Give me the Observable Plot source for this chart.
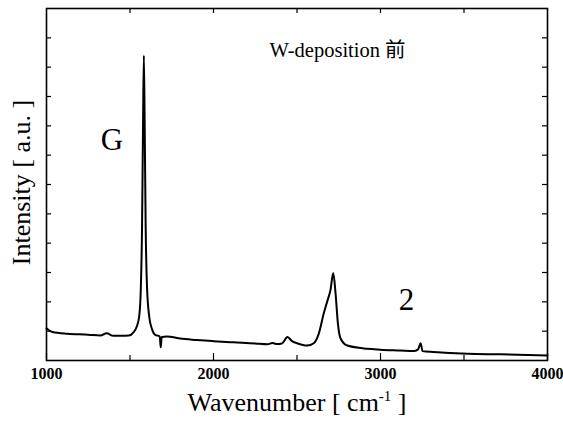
<!DOCTYPE html>
<html>
<head>
<meta charset="utf-8">
<script src="https://cdn.jsdelivr.net/npm/d3@7"></script>
<script src="https://cdn.jsdelivr.net/npm/@observablehq/plot@0.6"></script>
<style>
  html, body { margin: 0; padding: 0; background: #fff; }
  #chart svg { display: block; }
</style>
</head>
<body>
<div id="chart"></div>
<script>
// Raman spectrum
const wavenumber = [1000, 1036, 1125, 1250, 1323, 1360, 1400, 1450, 1492, 1522, 1540, 1555, 1565, 1572, 1578, 1583, 1588, 1594, 1602, 1615, 1630, 1650, 1678, 1684, 1690, 1720, 1750, 1800, 1900, 2000, 2120, 2250, 2323, 2353, 2380, 2410, 2443, 2470, 2500, 2561, 2600, 2630, 2660, 2683, 2700, 2717, 2731, 2745, 2761, 2801, 2920, 3000, 3120, 3198, 3225, 3240, 3252, 3318, 3520, 3719, 4000];
const intensity  = [1.10, 0.97, 0.91, 0.88, 0.85, 0.93, 0.84, 0.84, 0.85, 0.97, 1.15, 1.5, 2.5, 4.5, 8.0, 10.4, 8.0, 4.5, 2.5, 1.5, 1.1, 0.88, 0.82, 0.45, 0.80, 0.82, 0.80, 0.75, 0.70, 0.66, 0.62, 0.58, 0.55, 0.60, 0.56, 0.58, 0.80, 0.66, 0.59, 0.51, 0.59, 0.91, 1.6, 2.05, 2.39, 2.98, 2.28, 1.26, 0.75, 0.51, 0.40, 0.37, 0.34, 0.32, 0.38, 0.59, 0.32, 0.29, 0.23, 0.21, 0.17];

const xMajorTicks = [1000, 2000, 3000, 4000];
const xMinorTicks = [1500, 2500, 3500];
const xTopTicks = [1500, 2000, 2500, 3000, 3500];
const yTicks = [1, 2, 3, 4, 5, 6, 7, 8, 9, 10, 11];

const annoText = ["G", "2"];
const annoX = [1392, 3156];
const annoY = [7.53, 2.05];
const titleText = "W-deposition 前";
const titleX = 2743;
const titleY = 10.57;

const xLabel = "Wavenumber [ cm-1 ]";
const yLabel = "Intensity [ a.u. ]";

const spectrum = wavenumber.map((w, i) => ({w, v: intensity[i]}));
const annos = annoText.map((t, i) => ({t, x: annoX[i], y: annoY[i]}));

const W = 563, H = 430, mL = 46, mR = 16, mT = 8, mB = 70;
const innerH = H - mT - mB, innerW = W - mL - mR;
const serif = "'Liberation Serif', 'Times New Roman', 'Noto Sans CJK SC', serif";

const plot = Plot.plot({
  width: W, height: H,
  marginLeft: mL, marginRight: mR, marginTop: mT, marginBottom: mB,
  style: {fontFamily: serif, background: "#fff", color: "#000"},
  x: {domain: [1000, 4000]},
  y: {domain: [0, 12], axis: null},
  marks: [
    Plot.line(spectrum, {x: "w", y: "v", stroke: "#000", strokeWidth: 2, curve: "monotone-x"}),
    // bottom ticks (inward)
    Plot.ruleX(xMajorTicks, {stroke: "#000", strokeWidth: 1.2, insetTop: innerH - 7}),
    Plot.ruleX(xMinorTicks, {stroke: "#000", strokeWidth: 1.2, insetTop: innerH - 5}),
    // top ticks (inward)
    Plot.ruleX(xTopTicks, {stroke: "#000", strokeWidth: 1.2, insetBottom: innerH - 5}),
    // left / right ticks (inward)
    Plot.ruleY(yTicks, {stroke: "#000", strokeWidth: 1.2, insetRight: innerW - 5}),
    Plot.ruleY(yTicks, {stroke: "#000", strokeWidth: 1.2, insetLeft: innerW - 5}),
    Plot.frame({stroke: "#000", strokeWidth: 1.6}),
    Plot.axisX(xMajorTicks, {anchor: "bottom", tickSize: 0, tickPadding: 7, fontSize: 16, fontWeight: "bold", tickFormat: d => String(d), label: null}),
    Plot.text(annos, {x: "x", y: "y", text: "t", fontSize: 31, fontFamily: serif, fill: "#000"}),
    Plot.text([titleText], {x: () => titleX, y: () => titleY, text: d => d, fontSize: 20.5, fontFamily: serif, fill: "#000"}),
    Plot.text([xLabel], {frameAnchor: "bottom", text: d => d, dy: 50, fontSize: 26, fontFamily: serif, fill: "#000"}),
    Plot.text([yLabel], {frameAnchor: "left", text: d => d, rotate: -90, textAnchor: "middle", dx: -25, dy: -2, fontSize: 26, fontFamily: serif, fill: "#000"})
  ]
});

// superscript in x label
plot.querySelectorAll("text").forEach(t => {
  if (t.textContent === xLabel) {
    t.textContent = "";
    const ns = "http://www.w3.org/2000/svg";
    const a = document.createElementNS(ns, "tspan"); a.textContent = "Wavenumber [ cm";
    const b = document.createElementNS(ns, "tspan"); b.textContent = "-1"; b.setAttribute("dy", "-10"); b.setAttribute("font-size", "15");
    const c = document.createElementNS(ns, "tspan"); c.textContent = " ]"; c.setAttribute("dy", "10");
    t.append(a, b, c);
  }
});

document.getElementById("chart").append(plot);
</script>
</body>
</html>
